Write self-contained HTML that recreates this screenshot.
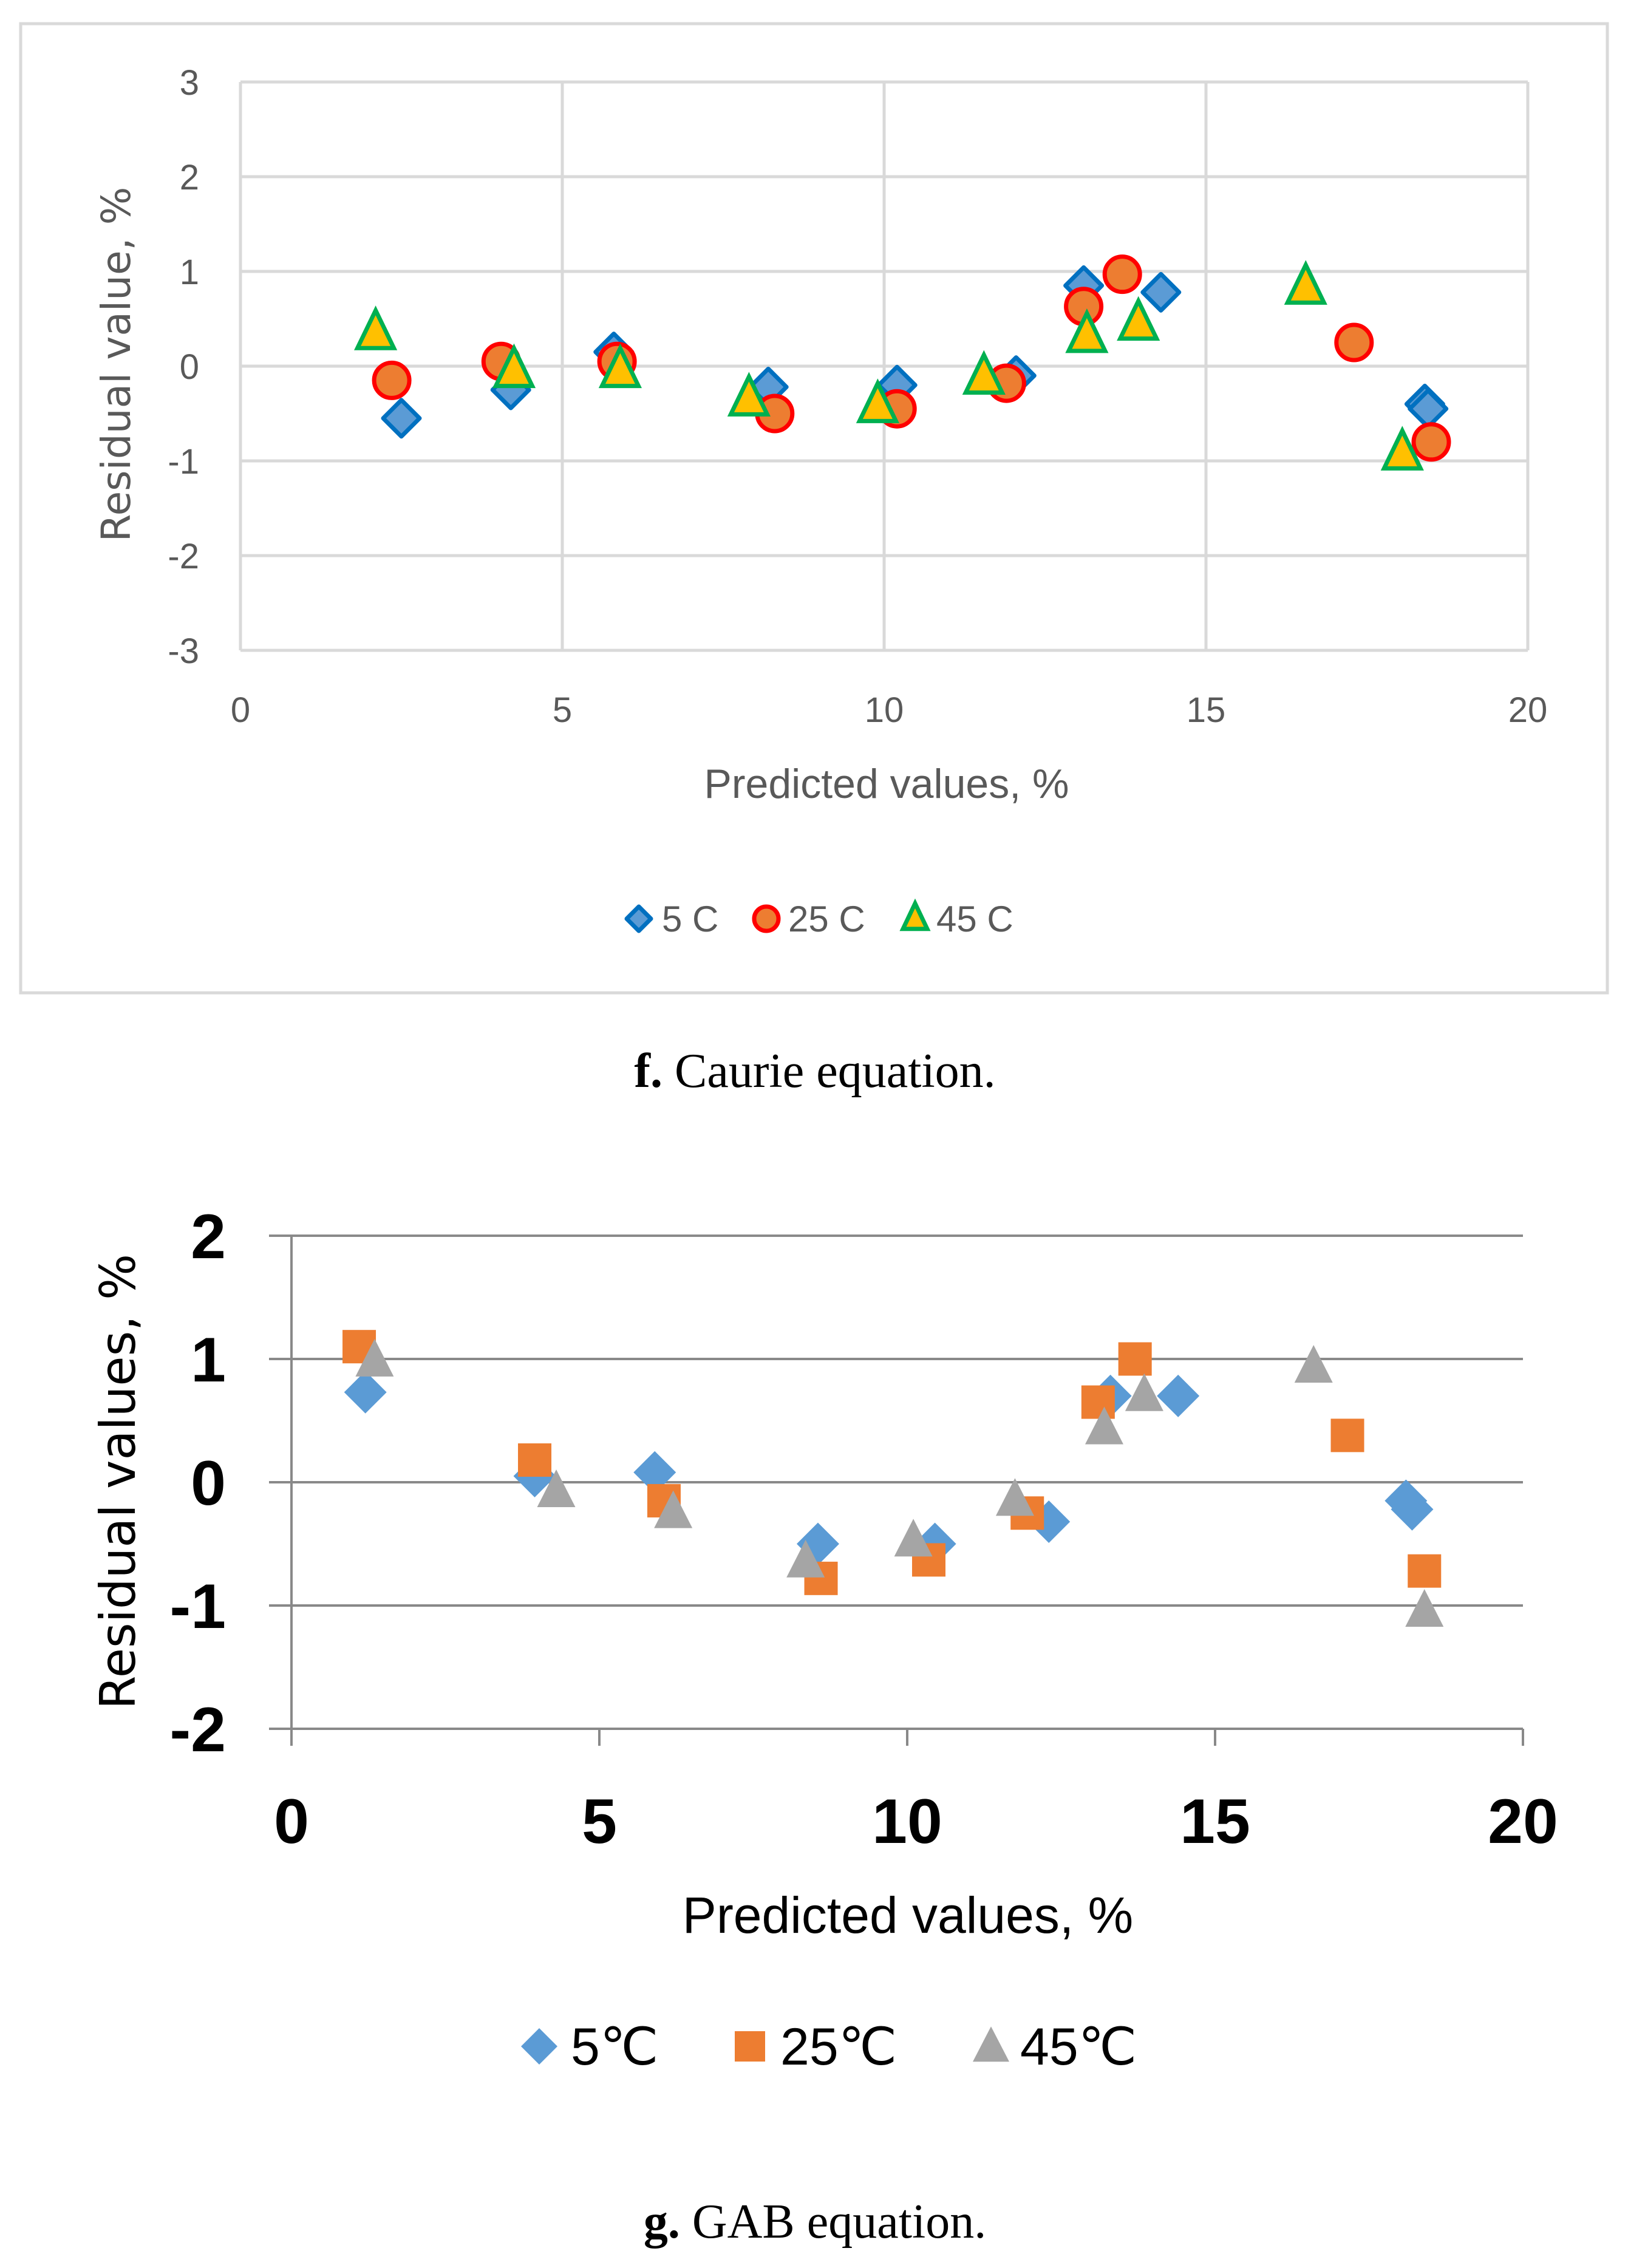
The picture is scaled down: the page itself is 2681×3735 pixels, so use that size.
<!DOCTYPE html>
<html><head><meta charset="utf-8"><style>
html,body{margin:0;padding:0;background:#fff}
svg{display:block}
</style></head><body>
<svg id="svg" width="2681" height="3735" viewBox="0 0 2681 3735" xmlns="http://www.w3.org/2000/svg">
<rect x="34" y="39" width="2613" height="1596" fill="#fff" stroke="#d9d9d9" stroke-width="5"/>
<g id="top"></g>
<g id="bot"></g>
<text x="1342" y="1790" font-family="Liberation Serif, serif" font-size="80" text-anchor="middle" fill="#000"><tspan font-weight="bold">f.</tspan> Caurie equation.</text>
<text x="1342" y="3685" font-family="Liberation Serif, serif" font-size="80" text-anchor="middle" fill="#000"><tspan font-weight="bold">g.</tspan> GAB equation.</text>
</svg>
<script>
// Chart f data
const fXTicks=[0,5,10,15,20];
const fYTicks=[3,2,1,0,-1,-2,-3];
const f5x=[2.5,4.2,5.8,8.2,10.2,12.05,13.1,14.3,18.4,18.45];
const f5y=[-0.55,-0.25,0.15,-0.22,-0.2,-0.1,0.85,0.78,-0.4,-0.45];
const f25x=[2.35,4.05,5.85,8.3,10.2,11.9,13.1,13.7,17.3,18.5];
const f25y=[-0.15,0.05,0.05,-0.5,-0.45,-0.18,0.63,0.97,0.25,-0.8];
const f45x=[2.1,4.25,5.9,7.9,9.9,11.55,13.15,13.95,16.55,18.05];
const f45y=[0.35,-0.05,-0.05,-0.35,-0.42,-0.12,0.32,0.45,0.83,-0.92];
// Chart g data
const gXTicks=[0,5,10,15,20];
const gYTicks=[2,1,0,-1,-2];
const g5x=[1.2,3.95,5.9,8.55,10.45,12.3,13.3,14.4,18.1,18.2];
const g5y=[0.73,0.05,0.08,-0.5,-0.5,-0.32,0.7,0.7,-0.15,-0.22];
const g25x=[1.1,3.95,6.05,8.6,10.35,11.95,13.1,13.7,17.15,18.4];
const g25y=[1.1,0.18,-0.15,-0.78,-0.63,-0.25,0.65,1.0,0.38,-0.72];
const g45x=[1.35,4.3,6.2,8.35,10.1,11.75,13.2,13.85,16.6,18.4];
const g45y=[0.98,-0.08,-0.25,-0.65,-0.48,-0.15,0.43,0.7,0.93,-1.05];

const NS='http://www.w3.org/2000/svg';
function mk(parent,tag,attrs,text){const e=document.createElementNS(NS,tag);for(const k in attrs)e.setAttribute(k,attrs[k]);if(text!==undefined)e.textContent=text;parent.appendChild(e);return e;}
function diamond(cx,cy,r){return `${cx},${cy-r} ${cx+r},${cy} ${cx},${cy+r} ${cx-r},${cy}`;}
function tri(cx,cy,w,h){return `${cx},${cy-h*0.6} ${cx+w/2},${cy+h*0.4} ${cx-w/2},${cy+h*0.4}`;}

// ---- Top chart ----
const T=document.getElementById('top');
const fx=v=>396+v*106, fy=v=>603-v*156;
fXTicks.forEach(t=>{const l=mk(T,'line',{x1:fx(t),x2:fx(t),y1:fy(3),y2:fy(-3),stroke:'#d9d9d9','stroke-width':5});


const tx=mk(T,'text',{x:fx(t),y:1189,'font-family':'Liberation Sans, sans-serif','font-size':58,fill:'#595959','text-anchor':'middle'},String(t));

});
fYTicks.forEach(t=>{const l=mk(T,'line',{x1:fx(0),x2:fx(20),y1:fy(t),y2:fy(t),stroke:'#d9d9d9','stroke-width':5});


const tx=mk(T,'text',{x:328,y:fy(t)+21,'font-family':'Liberation Sans, sans-serif','font-size':58,fill:'#595959','text-anchor':'end'},String(t));

});
let e=mk(T,'text',{x:1460,y:1314,'font-family':'Liberation Sans, sans-serif','font-size':68,fill:'#595959','text-anchor':'middle'},'Predicted values, %');


e=mk(T,'text',{x:0,y:0,transform:'translate(214,600) rotate(-90)','font-family':'DejaVu Sans, sans-serif','font-size':66,fill:'#595959','text-anchor':'middle'},'Residual value, %');


function fDiamond(g,cx,cy,r){const p=mk(g,'polygon',{points:diamond(cx,cy,r),fill:'#5b9bd5',stroke:'#0070c0','stroke-width':7,'stroke-linejoin':'round'});return p;}
function fCircle(g,cx,cy,r){return mk(g,'circle',{cx:cx,cy:cy,r:r,fill:'#ed7d31',stroke:'#ff0000','stroke-width':7});}
function fTri(g,cx,cy,w,h){return mk(g,'polygon',{points:tri(cx,cy,w,h),fill:'#ffc000',stroke:'#00b050','stroke-width':7,'stroke-linejoin':'miter'});}
f5x.forEach((v,i)=>{const p=fDiamond(T,fx(v),fy(f5y[i]),30);

});
f25x.forEach((v,i)=>{const p=fCircle(T,fx(v),fy(f25y[i]),29);

});
f45x.forEach((v,i)=>{const p=fTri(T,fx(v),fy(f45y[i]),60,62);

});
// legend
const LT=mk(T,'g',{});


e=fDiamond(LT,1052,1513,20);


e=mk(LT,'text',{x:1090,y:1534,'font-family':'Liberation Sans, sans-serif','font-size':60,fill:'#595959'},'5 C');


e=fCircle(LT,1262,1513,20);


e=mk(LT,'text',{x:1298,y:1534,'font-family':'Liberation Sans, sans-serif','font-size':60,fill:'#595959'},'25 C');


e=fTri(LT,1507,1513,40,42);


e=mk(LT,'text',{x:1542,y:1534,'font-family':'Liberation Sans, sans-serif','font-size':60,fill:'#595959'},'45 C');



// ---- Bottom chart ----
const B=document.getElementById('bot');
const gx=v=>480+v*101.4, gy=v=>2441-v*203;
gYTicks.forEach(t=>{const l=mk(B,'line',{x1:443,x2:gx(20),y1:gy(t),y2:gy(t),stroke:'#898989','stroke-width':4});


const tx=mk(B,'text',{x:372,y:gy(t)+37,'font-family':'Liberation Sans, sans-serif','font-size':104,'font-weight':'bold',fill:'#000','text-anchor':'end'},String(t));

});
e=mk(B,'line',{x1:gx(0),x2:gx(0),y1:gy(2),y2:gy(-2)+28,stroke:'#898989','stroke-width':4});


gXTicks.forEach(t=>{const l=mk(B,'line',{x1:gx(t),x2:gx(t),y1:gy(-2),y2:gy(-2)+28,stroke:'#898989','stroke-width':4});


const tx=mk(B,'text',{x:gx(t),y:3035,'font-family':'Liberation Sans, sans-serif','font-size':104,'font-weight':'bold',fill:'#000','text-anchor':'middle'},String(t));

});
e=mk(B,'text',{x:1495,y:3183,'font-family':'Liberation Sans, sans-serif','font-size':84,fill:'#000','text-anchor':'middle'},'Predicted values, %');


e=mk(B,'text',{x:0,y:0,transform:'translate(222,2440) rotate(-90)','font-family':'DejaVu Sans, sans-serif','font-size':80,fill:'#000','text-anchor':'middle'},'Residual values, %');


function gDia(g,cx,cy,r){return mk(g,'polygon',{points:diamond(cx,cy,r),fill:'#5b9bd5','stroke-linejoin':'round'});}
function gSq(g,cx,cy,s){return mk(g,'rect',{x:cx-s/2,y:cy-s/2,width:s,height:s,fill:'#ed7d31'});}
function gTri(g,cx,cy,w,h){return mk(g,'polygon',{points:tri(cx,cy,w,h),fill:'#a5a5a5'});}
g5x.forEach((v,i)=>{const p=gDia(B,gx(v),gy(g5y[i]),35);

});
g25x.forEach((v,i)=>{const p=gSq(B,gx(v),gy(g25y[i]),55);

});
g45x.forEach((v,i)=>{const p=gTri(B,gx(v),gy(g45y[i]),63,62);

});
const LB=mk(B,'g',{});


e=gDia(LB,888,3370,30);


e=mk(LB,'text',{x:940,y:3400,'font-family':'Liberation Sans, sans-serif','font-size':86,fill:'#000'},'5℃');


e=gSq(LB,1235,3370,50);


e=mk(LB,'text',{x:1285,y:3400,'font-family':'Liberation Sans, sans-serif','font-size':86,fill:'#000'},'25℃');


e=gTri(LB,1632,3372,60,58);


e=mk(LB,'text',{x:1680,y:3400,'font-family':'Liberation Sans, sans-serif','font-size':86,fill:'#000'},'45℃');


</script>
</body></html>
